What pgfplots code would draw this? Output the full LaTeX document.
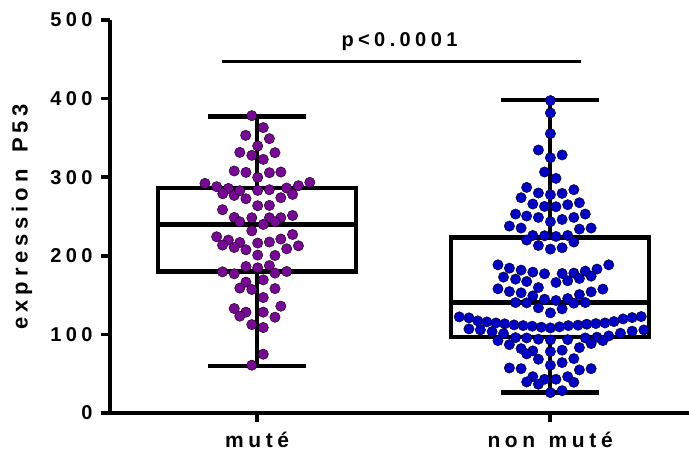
\documentclass[border=0pt]{standalone}
\usepackage{fontspec}
\setmainfont{Liberation Sans}[LetterSpace=22]
\usepackage{pgfplots}
\pgfplotsset{compat=1.18}
\definecolor{purp}{RGB}{122,8,150}
\definecolor{blu}{RGB}{0,0,200}
\begin{document}
\begin{tikzpicture}
\useasboundingbox (0,0) rectangle (689bp,457bp);
\begin{axis}[
  at={(110bp,44bp)}, anchor=south west,
  width=579bp, height=393bp, scale only axis,
  xmin=-0.502, xmax=1.474, ymin=0, ymax=500,
  axis x line*=bottom, axis y line*=left,
  axis line style={-, line width=4bp},
  ytick={0,100,200,300,400,500},
  xtick={0,1}, xticklabels={muté, non\hspace{3bp} muté},
  tick align=outside, major tick length=9bp,
  tick style={line width=3.5bp, black},
  /pgf/number format/assume math mode=true,
  yticklabel style={xshift=-5bp, font=\bfseries\fontsize{20bp}{22bp}\selectfont},
  xticklabel style={yshift=-7bp, font=\bfseries\fontsize{21bp}{23bp}\selectfont},
  ylabel={expression\hspace{6bp} P53},
  ylabel style={at={(axis description cs:-0.152,0.5)}, anchor=center, font=\bfseries\fontsize{22bp}{24bp}\selectfont},
  clip=false,
]
% box plots (muté: whiskers 60/377, quartiles 180/286, median 240)
\addplot[black, line width=4.5bp, line join=miter] coordinates {(-0.338,180) (0.338,180) (0.338,286) (-0.338,286) (-0.338,180)} -- cycle;
\addplot[black, line width=4.5bp] coordinates {(-0.338,240) (0.338,240)};
\addplot[black, line width=4.5bp] coordinates {(0,286) (0,377)};
\addplot[black, line width=4.5bp] coordinates {(0,180) (0,60)};
\addplot[black, line width=4.5bp] coordinates {(-0.1675,377) (0.1675,377)};
\addplot[black, line width=4.5bp] coordinates {(-0.1675,60) (0.1675,60)};
% non muté: whiskers 26/398, quartiles 97/223, median 140.5
\addplot[black, line width=4.5bp, line join=miter] coordinates {(0.662,97) (1.338,97) (1.338,223) (0.662,223) (0.662,97)} -- cycle;
\addplot[black, line width=4.5bp] coordinates {(0.662,140.5) (1.338,140.5)};
\addplot[black, line width=4.5bp] coordinates {(1,223) (1,398)};
\addplot[black, line width=4.5bp] coordinates {(1,97) (1,26)};
\addplot[black, line width=4.5bp] coordinates {(0.8325,398) (1.1675,398)};
\addplot[black, line width=4.5bp] coordinates {(0.8325,26) (1.1675,26)};
% significance bar
\addplot[black, line width=3.5bp] coordinates {(-0.121,447) (1.107,447)};
\node[font=\bfseries\fontsize{20bp}{22bp}\selectfont] at (axis cs:0.486,472) {p<0.0001};
\addplot[only marks, mark=*, mark size=5.2bp, mark options={draw=none, fill=purp}] table {
x y
-0.018 378.3
0.021 363.1
-0.039 353.2
0.042 349.0
0.002 339.7
-0.059 331.6
-0.018 327.8
0.061 331.2
0.021 322.7
-0.078 307.9
-0.038 306.1
0.042 305.7
0.081 306.6
0.002 299.7
-0.178 292.1
-0.138 287.9
-0.098 285.7
-0.117 279.0
-0.078 276.8
-0.059 282.8
0.002 283.2
0.042 284.1
0.101 286.2
0.141 289.2
0.180 293.4
0.121 278.1
-0.038 272.6
0.081 273.9
0.002 263.7
0.042 264.1
-0.118 258.6
-0.078 248.8
-0.059 243.3
-0.018 248.4
0.042 248.4
0.081 248.4
0.061 243.3
0.021 239.9
0.121 251.3
-0.018 231.8
-0.138 224.2
-0.098 220.0
-0.118 213.6
-0.059 216.9
-0.078 210.6
0.002 216.2
0.042 217.5
0.081 221.3
0.121 227.1
0.101 208.9
0.141 212.7
-0.038 207.6
0.002 200.9
0.061 200.4
-0.038 186.4
0.002 184.7
0.042 187.6
-0.118 179.6
-0.078 177.1
0.061 178.0
0.101 180.0
-0.038 166.5
0.021 169.4
-0.059 158.9
-0.018 157.1
0.061 158.3
0.021 146.9
-0.078 132.9
-0.038 128.3
-0.059 123.2
0.021 128.3
0.081 135.9
0.061 121.9
-0.018 112.5
0.021 108.7
0.021 74.8
-0.018 60.8
};
\addplot[only marks, mark=*, mark size=5.2bp, mark options={draw=none, fill=blu}] table {
x y
1.001 397.5
1.001 381.8
1.001 355.4
0.960 334.6
1.001 324.8
1.041 328.3
0.981 306.6
1.020 298.5
0.920 287.0
0.960 279.9
1.001 277.7
1.041 279.4
1.081 284.1
0.901 273.9
0.941 265.9
0.981 262.8
1.020 262.4
1.060 265.0
1.100 267.5
0.882 253.1
0.920 250.6
0.960 248.8
1.001 243.3
1.041 246.2
1.081 248.8
1.120 253.1
0.861 237.8
0.901 235.3
1.100 234.0
1.140 235.3
0.941 225.9
0.981 225.5
1.020 224.6
1.060 225.9
0.920 220.0
1.081 217.5
0.960 213.1
1.001 208.5
1.041 210.2
0.822 188.5
0.861 184.3
0.901 181.8
0.941 179.2
0.981 177.1
1.041 177.5
1.081 178.0
1.120 180.5
1.160 183.1
1.200 188.5
0.841 172.9
0.882 170.3
0.920 167.3
1.020 166.0
1.060 168.2
1.100 171.1
1.140 174.1
0.822 158.0
0.861 154.5
0.901 152.9
0.960 159.6
0.941 149.0
0.981 144.8
1.020 143.1
1.060 145.6
1.100 150.7
1.140 154.1
1.180 157.6
0.882 140.5
0.920 140.1
1.081 139.7
1.120 140.5
0.960 133.8
1.001 127.4
1.041 132.5
0.690 122.3
0.723 121.0
0.753 117.2
0.784 115.9
0.815 114.6
0.845 113.4
0.877 112.1
0.908 111.2
0.939 110.4
0.970 109.2
1.001 108.3
1.032 109.6
1.062 111.2
1.095 111.7
1.125 113.0
1.156 113.8
1.187 114.6
1.218 116.3
1.249 119.7
1.280 121.4
1.311 122.7
0.723 107.0
0.762 105.7
0.802 103.6
0.841 101.0
1.240 101.5
1.280 104.1
1.320 105.7
0.822 92.1
0.882 95.9
0.920 95.5
0.960 93.9
1.001 93.0
1.060 93.4
1.120 95.5
1.160 96.4
1.200 98.1
0.861 87.0
1.140 88.3
1.180 92.1
0.901 81.9
0.941 79.0
0.920 75.2
1.001 78.1
1.041 79.9
1.100 83.2
0.960 68.4
1.001 60.8
1.041 64.1
1.081 69.2
0.861 57.3
0.901 56.4
1.100 54.8
1.140 56.4
0.941 46.2
0.981 42.9
1.020 42.9
1.060 46.2
0.920 39.5
0.960 36.6
1.081 39.1
1.001 25.9
1.041 28.4
};
\end{axis}
\end{tikzpicture}
\end{document}
